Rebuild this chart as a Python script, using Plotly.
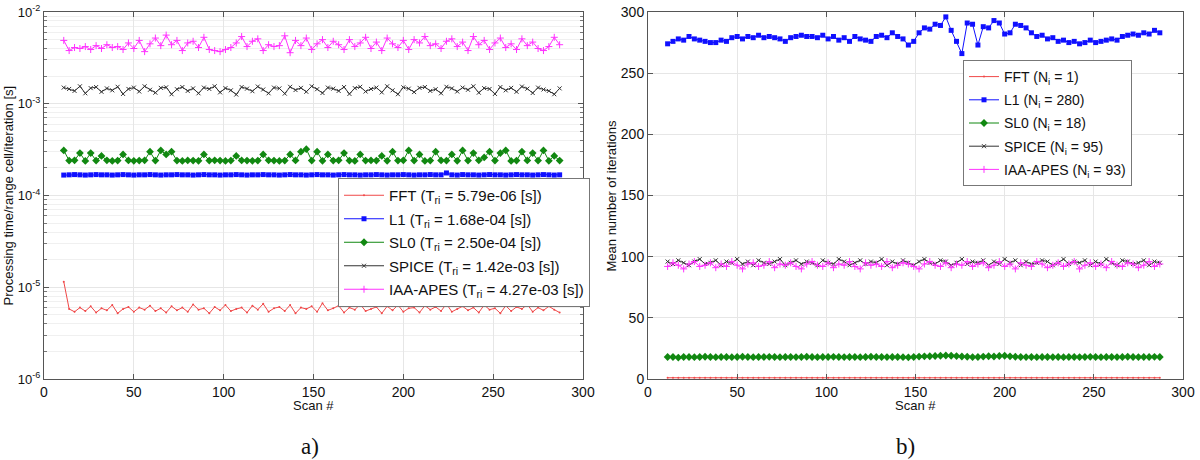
import plotly.graph_objects as go

# ---------------- data ----------------
scans = list(range(11, 288, 3))  # scan numbers (every 3rd scan sampled)

# (a) processing time per range cell per iteration
fft_time_us = [11.5, 5.8, 5.4, 6.0, 5.5, 6.2, 5.3, 5.9, 5.6, 6.4,
               5.2, 5.8, 6.1, 5.4, 6.0, 5.7, 6.3, 5.5, 5.9, 5.3,
               6.2, 5.6, 6.0, 5.4, 6.5, 5.7, 5.9, 5.2, 6.1, 5.6,
               6.4, 5.5, 5.8, 6.0, 5.3, 6.3, 5.7, 6.6, 5.4, 5.9,
               6.1, 5.5, 6.4, 5.2, 6.0, 5.8, 6.2, 5.4, 6.7, 5.6,
               5.9, 6.3, 5.3, 6.0, 5.7, 6.5, 5.5, 5.8, 6.1, 5.2,
               6.2, 5.6, 6.4, 5.4, 5.9, 6.0, 5.3, 6.3, 5.7, 6.1,
               5.5, 6.6, 5.4, 5.8, 6.2, 5.6, 6.0, 5.3, 6.4, 5.7,
               5.9, 5.2, 6.3, 5.5, 6.1, 5.8, 6.5, 5.4, 6.0, 5.6,
               6.2, 5.7, 5.3]
l1_time_1e4 = [1.67, 1.68, 1.69, 1.68, 1.67, 1.68, 1.69, 1.68, 1.68, 1.67,
               1.68, 1.69, 1.68, 1.67, 1.68, 1.68, 1.69, 1.68, 1.67, 1.68,
               1.68, 1.69, 1.68, 1.68, 1.67, 1.68, 1.69, 1.68, 1.68, 1.67,
               1.68, 1.68, 1.69, 1.68, 1.67, 1.68, 1.68, 1.69, 1.68, 1.68,
               1.67, 1.68, 1.69, 1.68, 1.68, 1.67, 1.68, 1.69, 1.68, 1.68,
               1.67, 1.68, 1.69, 1.68, 1.68, 1.67, 1.68, 1.68, 1.69, 1.68,
               1.67, 1.68, 1.68, 1.69, 1.68, 1.67, 1.68, 1.68, 1.69, 1.68,
               1.68, 1.76, 1.68, 1.67, 1.69, 1.68, 1.68, 1.67, 1.68, 1.69,
               1.68, 1.68, 1.67, 1.68, 1.69, 1.68, 1.68, 1.67, 1.68, 1.69,
               1.68, 1.67, 1.68]
sl0_time_1e4 = [3.1, 2.4, 2.42, 2.9, 2.38, 2.9, 2.4, 2.7, 2.42, 2.38,
                2.4, 2.8, 2.41, 2.39, 2.4, 2.42, 3.0, 2.4, 3.1, 2.8,
                3.0, 2.4, 2.38, 2.41, 2.4, 2.39, 2.8, 2.4, 2.42, 2.4,
                2.38, 2.4, 2.7, 2.41, 2.4, 2.39, 2.4, 2.8, 2.42, 2.4,
                2.38, 2.4, 2.8, 2.41, 3.0, 3.2, 2.4, 3.0, 2.39, 2.8,
                2.4, 2.42, 2.9, 2.4, 2.38, 2.8, 2.4, 2.41, 2.4, 2.7,
                2.39, 3.0, 2.4, 2.42, 3.1, 2.4, 2.8, 2.38, 2.4, 3.0,
                2.41, 2.4, 2.8, 2.39, 3.1, 2.4, 2.9, 2.42, 2.6, 3.0,
                2.4, 2.9, 3.1, 2.38, 2.4, 3.0, 2.41, 2.9, 2.4, 3.1,
                2.39, 2.7, 2.4]
spice_time_ms = [1.50, 1.45, 1.38, 1.55, 1.30, 1.48, 1.52, 1.35, 1.47, 1.40,
                 1.53, 1.28, 1.45, 1.50, 1.36, 1.55, 1.42, 1.32, 1.49, 1.51,
                 1.27, 1.44, 1.52, 1.38, 1.47, 1.30, 1.50, 1.45, 1.55, 1.33,
                 1.48, 1.40, 1.26, 1.52, 1.46, 1.37, 1.54, 1.43, 1.30, 1.50,
                 1.47, 1.29, 1.53, 1.41, 1.49, 1.35, 1.55, 1.44, 1.31, 1.50,
                 1.46, 1.38, 1.52, 1.28, 1.48, 1.53, 1.36, 1.45, 1.50, 1.33,
                 1.55, 1.40, 1.27, 1.51, 1.46, 1.34, 1.49, 1.52, 1.38, 1.44,
                 1.30, 1.53, 1.47, 1.36, 1.50, 1.42, 1.55, 1.32, 1.48, 1.45,
                 1.28, 1.52, 1.40, 1.49, 1.35, 1.54, 1.46, 1.31, 1.50, 1.43,
                 1.38, 1.27, 1.47]
iaa_time_ms = [4.9, 3.8, 4.1, 4.0, 4.2, 3.9, 4.3, 4.0, 4.4, 4.1,
               4.2, 3.9, 4.6, 4.0, 4.9, 3.7, 4.5, 5.2, 4.3, 5.6,
               4.4, 4.9, 3.8, 4.6, 4.8, 4.1, 5.3, 3.9, 3.8, 3.7,
               3.9, 4.1, 4.6, 5.4, 4.2, 4.8, 5.1, 3.8, 4.4, 4.2,
               4.3, 5.5, 3.6, 4.9, 4.3, 5.2, 3.9, 4.5, 5.0, 4.1,
               4.8, 4.4, 3.9, 5.0, 4.2, 4.6, 5.3, 4.0, 4.7, 3.8,
               5.2, 4.5, 4.1, 4.9, 3.9, 5.0, 4.6, 5.4, 4.3, 4.5,
               4.0, 4.8, 5.1, 4.2, 4.7, 3.8, 5.4, 4.4, 4.9, 3.9,
               4.6, 5.2, 4.1, 4.5, 3.9, 5.1, 4.3, 4.7, 4.0, 3.8,
               4.2, 5.3, 4.4]

# (b) mean number of iterations
fft_iter = [1, 1, 1, 1, 1, 1, 1, 1, 1, 1,
            1, 1, 1, 1, 1, 1, 1, 1, 1, 1,
            1, 1, 1, 1, 1, 1, 1, 1, 1, 1,
            1, 1, 1, 1, 1, 1, 1, 1, 1, 1,
            1, 1, 1, 1, 1, 1, 1, 1, 1, 1,
            1, 1, 1, 1, 1, 1, 1, 1, 1, 1,
            1, 1, 1, 1, 1, 1, 1, 1, 1, 1,
            1, 1, 1, 1, 1, 1, 1, 1, 1, 1,
            1, 1, 1, 1, 1, 1, 1, 1, 1, 1,
            1, 1, 1]
l1_iter = [274, 276, 278, 277, 280, 278, 277, 276, 275, 275,
           277, 276, 279, 280, 278, 280, 279, 281, 279, 280,
           279, 278, 276, 279, 280, 281, 280, 280, 279, 281,
           278, 280, 277, 279, 276, 280, 278, 277, 276, 280,
           281, 279, 283, 280, 278, 273, 276, 283, 287, 286,
           290, 289, 296, 285, 276, 266, 291, 290, 273, 288,
           287, 293, 291, 282, 283, 290, 289, 287, 283, 280,
           281, 278, 279, 276, 277, 275, 276, 274, 275, 277,
           275, 276, 277, 278, 277, 280, 281, 282, 281, 283,
           282, 285, 283]
sl0_iter = [18, 18, 17.5, 18, 18, 17.8, 18, 18.2, 18, 17.8,
            18, 18, 17.8, 18, 18.2, 18, 17.8, 18, 18, 18.1,
            18, 17.8, 18, 18, 17.9, 18, 18.2, 18, 17.8, 18,
            18, 18.1, 18, 17.9, 18, 18, 17.8, 18, 18.2, 18,
            18, 17.9, 18, 18, 17.8, 17.7, 18, 18.3, 18.5, 18.6,
            18.8, 19, 19.2, 19, 18.7, 18.4, 18.2, 17.9, 18, 18.3,
            18.6, 18.4, 18.8, 19, 18.5, 18.2, 18, 17.9, 18, 17.8,
            18, 18, 17.9, 18, 17.8, 18, 18, 17.9, 18, 18.1,
            18, 17.8, 18, 18, 17.9, 18, 18.2, 18, 17.9, 18,
            18, 18.1, 18]
spice_iter = [96, 94, 97, 95, 93, 96, 98, 94, 95, 97,
              93, 96, 95, 98, 94, 96, 93, 97, 95, 94,
              96, 98, 93, 95, 97, 94, 96, 95, 93, 97,
              95, 94, 98, 96, 93, 95, 97, 94, 96, 95,
              98, 93, 96, 94, 97, 95, 93, 96, 98, 95,
              94, 97, 96, 93, 95, 98, 94, 96, 95, 97,
              93, 96, 94, 98, 95, 97, 93, 96, 94, 95,
              97, 96, 93, 95, 98, 94, 96, 95, 97, 93,
              96, 94, 98, 95, 93, 97, 96, 94, 95, 97,
              93, 96, 95]
iaa_iter = [92, 95, 93, 90, 94, 96, 92, 93, 95, 91,
            94, 92, 96, 93, 90, 94, 95, 92, 93, 96,
            91, 94, 93, 95, 92, 90, 94, 96, 93, 92,
            95, 91, 94, 93, 96, 92, 90, 95, 93, 94,
            92, 96, 91, 93, 95, 94, 92, 90, 94, 96,
            93, 92, 95, 91, 94, 93, 96, 92, 94, 95,
            91, 93, 96, 92, 94, 90, 95, 93, 92, 96,
            94, 91, 93, 95, 92, 94, 96, 90, 93, 95,
            92, 94, 91, 96, 93, 92, 95, 94, 91, 93,
            96, 92, 94]

left_names = ["FFT (T<sub>ri</sub> = 5.79e-06 [s])",
              "L1 (T<sub>ri</sub> = 1.68e-04 [s])",
              "SL0 (T<sub>ri</sub> = 2.50e-04 [s])",
              "SPICE (T<sub>ri</sub> = 1.42e-03 [s])",
              "IAA-APES (T<sub>ri</sub> = 4.27e-03 [s])"]
right_names = ["FFT (N<sub>i</sub> = 1)",
               "L1 (N<sub>i</sub> = 280)",
               "SL0 (N<sub>i</sub> = 18)",
               "SPICE (N<sub>i</sub> = 95)",
               "IAA-APES (N<sub>i</sub> = 93)"]
x_ticks = [0, 50, 100, 150, 200, 250, 300]
log_ticks = [1e-6, 1e-5, 1e-4, 1e-3, 1e-2]
log_ticktext = ["10<sup>-6</sup>", "10<sup>-5</sup>", "10<sup>-4</sup>",
                "10<sup>-3</sup>", "10<sup>-2</sup>"]
iter_ticks = [0, 50, 100, 150, 200, 250, 300]

# ---------------- styles ----------------
styles = [
    dict(color="#f04848", symbol="circle", size=2, lw=1),
    dict(color="#1010ff", symbol="square", size=5, lw=1),
    dict(color="#118811", symbol="diamond", size=6, lw=1),
    dict(color="#333333", symbol="x-thin", size=4, lw=1),
    dict(color="#ff33ff", symbol="cross-thin", size=5, lw=1),
]

left_series = [[v * 1e-6 for v in fft_time_us],
               [v * 1e-4 for v in l1_time_1e4],
               [v * 1e-4 for v in sl0_time_1e4],
               [v * 1e-3 for v in spice_time_ms],
               [v * 1e-3 for v in iaa_time_ms]]
right_series = [fft_iter, l1_iter, sl0_iter, spice_iter, iaa_iter]

FONT = "Liberation Sans, Arial, sans-serif"
SERIF = "Liberation Serif, Times New Roman, serif"
fig = go.Figure()


def marker_for(st):
    m = dict(symbol=st["symbol"], size=st["size"], color=st["color"])
    if "thin" in st["symbol"]:
        m["line"] = dict(color=st["color"], width=1)
    else:
        m["line"] = dict(width=0)
    return m


for i, (name, vals, st) in enumerate(zip(left_names, left_series, styles)):
    fig.add_trace(go.Scatter(x=scans[:len(vals)], y=vals, name=name, mode="lines+markers",
                             line=dict(color=st["color"], width=st["lw"]),
                             marker=marker_for(st), xaxis="x", yaxis="y",
                             legend="legend", legendgroup="a%d" % i))
for i, (name, vals, st) in enumerate(zip(right_names, right_series, styles)):
    fig.add_trace(go.Scatter(x=scans[:len(vals)], y=vals, name=name, mode="lines+markers",
                             line=dict(color=st["color"], width=st["lw"]),
                             marker=marker_for(st), xaxis="x2", yaxis="y2",
                             legend="legend2", legendgroup="b%d" % i))

# page body margin is removed by a post script, so figure pixel = reference pixel
W, H = 1200, 460


def px(xr):
    return xr / W


def py(yr):
    return 1 - yr / H


L_x0, L_x1 = 44, 583
R_x0, R_x1 = 648, 1183
Y_top, Y_bot = 12, 379

axis_common = dict(showline=True, linecolor="#555", linewidth=1, mirror="ticks",
                   ticks="inside", ticklen=5, tickcolor="#555", automargin=False,
                   ticklabeloverflow="allow",
                   showgrid=True, gridcolor="#e6e6e6", gridwidth=1, zeroline=False,
                   tickfont=dict(family=FONT, size=14, color="#111"))

minor_vals = []
for dec in [1e-6, 1e-5, 1e-4, 1e-3]:
    for k in range(2, 10):
        minor_vals.append(k * dec)


def label(text, xr, yr, size=13, family=FONT, angle=0, xanchor="center"):
    return dict(text=text, x=px(xr), y=py(yr), xref="paper", yref="paper",
                xanchor=xanchor, yanchor="middle", showarrow=False, textangle=angle,
                font=dict(family=family, size=size, color="#111"))


y_mid = (Y_top + Y_bot) / 2

left_y = dict(axis_common)
left_y["tickfont"] = dict(family=FONT, size=13, color="#111")

fig.update_layout(
    width=W, height=H, margin=dict(l=0, r=0, t=0, b=0, autoexpand=False),
    paper_bgcolor="white", plot_bgcolor="white",
    font=dict(family=FONT, size=13, color="#111"),
    xaxis=dict(domain=[px(L_x0), px(L_x1)], range=[0, 300], tickvals=x_ticks,
               anchor="y", **axis_common),
    yaxis=dict(domain=[py(Y_bot), py(Y_top)], type="log", range=[-6, -2],
               tickvals=log_ticks, ticktext=log_ticktext,
               minor=dict(tickvals=minor_vals, ticks="inside", ticklen=3,
                          tickcolor="#777", showgrid=True, gridcolor="#f0f0f0"),
               anchor="x", **left_y),
    xaxis2=dict(domain=[px(R_x0), px(R_x1)], range=[0, 300], tickvals=x_ticks,
                anchor="y2", **axis_common),
    yaxis2=dict(domain=[py(Y_bot), py(Y_top)], range=[0, 300],
                tickvals=iter_ticks, anchor="x2", **axis_common),
    legend=dict(x=px(338), y=py(178), xanchor="left", yanchor="top",
                bgcolor="white", bordercolor="#777", borderwidth=1,
                font=dict(family=FONT, size=15, color="#111"), tracegroupgap=1,
                itemwidth=40),
    legend2=dict(x=px(963), y=py(60), xanchor="left", yanchor="top",
                 bgcolor="white", bordercolor="#777", borderwidth=1,
                 font=dict(family=FONT, size=14, color="#111"), tracegroupgap=2,
                 itemwidth=30),
    showlegend=True,
    hovermode=False,
    annotations=[
        label("Scan #", (L_x0 + L_x1) / 2, 405),
        label("Scan #", (R_x0 + R_x1) / 2, 405),
        label("Processing time/range cell/iteration [s]", 8, y_mid, angle=-90),
        label("Mean number of iterations", 611, y_mid, angle=-90),
        label("a)", 310, 446, size=23, family=SERIF),
        label("b)", 905, 446, size=23, family=SERIF),
    ],
)

fig.write_html("out.html",
               config={"displayModeBar": False},
               post_script="document.body.style.margin='0px';"
                           "document.body.style.overflow='hidden';")
